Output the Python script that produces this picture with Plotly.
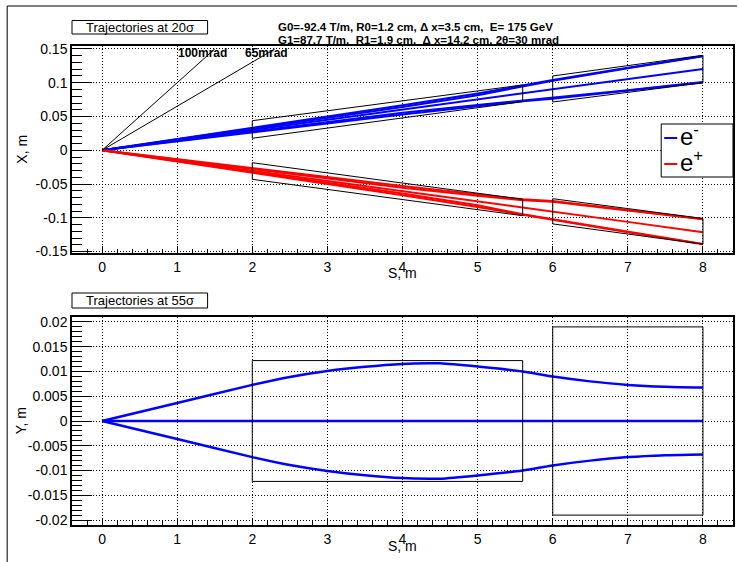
import plotly.graph_objects as go

# ---------------- data ----------------
S_TOP = [0, 2, 3, 4, 5, 5.6, 6, 7, 8]
# e- trajectories (X, m)
X_EM_1 = [0, 0.0330, 0.0495, 0.0665, 0.0840, 0.0960, 0.1040, 0.1222, 0.1397]
X_EM_2 = [0, 0.0318, 0.0475, 0.0640, 0.0815, 0.0950, 0.1030, 0.1213, 0.1392]
X_EM_3 = [0, 0.0300, 0.0452, 0.0603, 0.0754, 0.0845, 0.0905, 0.1055, 0.1205]
X_EM_4 = [0, 0.0282, 0.0425, 0.0555, 0.0672, 0.0738, 0.0772, 0.0890, 0.1010]
X_EM_5 = [0, 0.0270, 0.0405, 0.0530, 0.0652, 0.0725, 0.0762, 0.0885, 0.1005]
# e+ trajectories (X, m)
X_EP_1 = [0, -0.0330, -0.0495, -0.0665, -0.0840, -0.0958, -0.1030, -0.1215, -0.1390]
X_EP_2 = [0, -0.0318, -0.0475, -0.0640, -0.0815, -0.0948, -0.1020, -0.1208, -0.1386]
X_EP_3 = [0, -0.0300, -0.0452, -0.0603, -0.0754, -0.0848, -0.0905, -0.1060, -0.1215]
X_EP_4 = [0, -0.0282, -0.0425, -0.0555, -0.0672, -0.0740, -0.0762, -0.0892, -0.1022]
X_EP_5 = [0, -0.0270, -0.0405, -0.0530, -0.0652, -0.0726, -0.0750, -0.0885, -0.1017]

# magnet apertures in X (polygon corners)
BOX_S_Q0 = [2, 2, 5.6, 5.6, 2]
BOX_X_Q0_EM = [0.0178, 0.0438, 0.0967, 0.0720, 0.0178]
BOX_X_Q0_EP = [-0.0184, -0.0430, -0.0969, -0.0726, -0.0184]
BOX_S_Q1 = [6, 6, 8, 8, 6]
BOX_X_Q1_EM = [0.0715, 0.1100, 0.1407, 0.1000, 0.0715]
BOX_X_Q1_EP = [-0.0717, -0.1090, -0.1390, -0.1010, -0.0717]

# angle reference lines
ANG_S_100 = [0, 1.5]
ANG_X_100 = [0, 0.150]
ANG_S_65 = [0, 2.3]
ANG_X_65 = [0, 0.150]

# vertical trajectories (Y, m)
S_BOT = [0, 1, 2, 2.5, 3, 3.5, 4, 4.35, 4.5, 5, 5.6, 6, 6.5, 7, 7.5, 8]
Y_UP = [0, 0.00364, 0.00729, 0.0089, 0.0101, 0.01095, 0.01153, 0.01167, 0.01165,
        0.01099, 0.0100, 0.00897, 0.0080, 0.00729, 0.00690, 0.00674]
Y_MID = [0, 0, 0, 0, 0, 0, 0, 0, 0, 0, 0, 0, 0, 0, 0, 0]
Y_DN = [0, -0.00364, -0.00729, -0.0089, -0.0101, -0.01095, -0.01153, -0.01167, -0.01165,
        -0.01099, -0.0100, -0.00897, -0.0080, -0.00729, -0.00690, -0.00674]

BOXY_S_Q0 = [2, 2, 5.6, 5.6, 2]
BOXY_Y_Q0 = [-0.0122, 0.0122, 0.0122, -0.0122, -0.0122]
BOXY_S_Q1 = [6, 6, 8, 8, 6]
BOXY_Y_Q1 = [-0.0190, 0.0190, 0.0190, -0.0190, -0.0190]

X_TICKS = [0, 1, 2, 3, 4, 5, 6, 7, 8]
YT_VALS = [-0.15, -0.1, -0.05, 0, 0.05, 0.1, 0.15]
YT_TEXT = ["-0.15", "-0.1", "-0.05", "0", "0.05", "0.1", "0.15"]
YB_VALS = [-0.02, -0.015, -0.01, -0.005, 0, 0.005, 0.01, 0.015, 0.02]
YB_TEXT = ["-0.02", "-0.015", "-0.01", "-0.005", "0", "0.005", "0.01", "0.015", "0.02"]

# ---------------- figure ----------------
W, H = 739, 562
ML, MR, MT, MB = 72, 4, 46, 37
PW, PH = W - ML - MR, H - MT - MB
FONT = "Liberation Sans, Arial, Helvetica, sans-serif"


def px(x):
    return (x - ML) / PW


def py(y):
    return (H - MB - y) / PH


fig = go.Figure()

BLUE = "#0000ff"
RED = "#ff0000"

for ys in [X_EM_1, X_EM_2, X_EM_3, X_EM_4, X_EM_5]:
    fig.add_trace(go.Scatter(x=S_TOP, y=ys, mode="lines", line=dict(color=BLUE, width=2),
                             xaxis="x", yaxis="y", showlegend=False, hoverinfo="skip"))
for ys in [X_EP_1, X_EP_2, X_EP_3, X_EP_4, X_EP_5]:
    fig.add_trace(go.Scatter(x=S_TOP, y=ys, mode="lines", line=dict(color=RED, width=2),
                             xaxis="x", yaxis="y", showlegend=False, hoverinfo="skip"))
for sx, sy in [(BOX_S_Q0, BOX_X_Q0_EM), (BOX_S_Q0, BOX_X_Q0_EP),
               (BOX_S_Q1, BOX_X_Q1_EM), (BOX_S_Q1, BOX_X_Q1_EP),
               (ANG_S_100, ANG_X_100), (ANG_S_65, ANG_X_65)]:
    fig.add_trace(go.Scatter(x=sx, y=sy, mode="lines", line=dict(color="black", width=1),
                             xaxis="x", yaxis="y", showlegend=False, hoverinfo="skip"))

for ys in [Y_UP, Y_MID, Y_DN]:
    fig.add_trace(go.Scatter(x=S_BOT, y=ys, mode="lines",
                             line=dict(color=BLUE, width=2.5, shape="spline", smoothing=0.8),
                             xaxis="x2", yaxis="y2", showlegend=False, hoverinfo="skip"))
for sx, sy in [(BOXY_S_Q0, BOXY_Y_Q0), (BOXY_S_Q1, BOXY_Y_Q1)]:
    fig.add_trace(go.Scatter(x=sx, y=sy, mode="lines", line=dict(color="black", width=1),
                             xaxis="x2", yaxis="y2", showlegend=False, hoverinfo="skip"))

DOT = "1px,2px"
xcommon = dict(range=[-0.4, 8.4], tickvals=X_TICKS, ticks="inside", ticklen=7, tickcolor="black",
               minor=dict(ticks="inside", ticklen=4, dtick=0.2, tick0=0, tickcolor="black", showgrid=False),
               showgrid=True, gridcolor="black", griddash=DOT, gridwidth=1,
               showline=True, mirror=True, linecolor="black", linewidth=1.5, zeroline=False,
               tickfont=dict(family=FONT, size=14, color="black"))

fig.update_layout(
    width=W, height=H, margin=dict(l=ML, r=MR, t=MT, b=MB),
    paper_bgcolor="white", plot_bgcolor="white", showlegend=False,
    font=dict(family=FONT, color="black"),
    xaxis=dict(domain=[0, 1], anchor="y", **xcommon),
    xaxis2=dict(domain=[0, 1], anchor="y2", **xcommon),
    yaxis=dict(domain=[py(253), 1], anchor="x", range=[-0.1521, 0.1544],
               tickvals=YT_VALS, ticktext=YT_TEXT, ticks="inside", ticklen=20, tickcolor="black",
               minor=dict(ticks="inside", ticklen=10, dtick=0.01, tick0=0, tickcolor="black", showgrid=False),
               showgrid=True, gridcolor="black", griddash=DOT, gridwidth=1,
               showline=True, mirror=True, linecolor="black", linewidth=1.5, zeroline=False,
               tickfont=dict(family=FONT, size=14, color="black")),
    yaxis2=dict(domain=[0, py(317)], anchor="x2", range=[-0.0210, 0.0210],
                tickvals=YB_VALS, ticktext=YB_TEXT, ticks="inside", ticklen=20, tickcolor="black",
                minor=dict(ticks="inside", ticklen=10, dtick=0.001, tick0=0, tickcolor="black", showgrid=False),
                showgrid=True, gridcolor="black", griddash=DOT, gridwidth=1,
                showline=True, mirror=True, linecolor="black", linewidth=1.5, zeroline=False,
                tickfont=dict(family=FONT, size=14, color="black")),
)

shapes = [
    # canvas border
    dict(type="line", xref="paper", yref="paper", x0=px(7), x1=px(7), y0=py(6), y1=py(562),
         line=dict(color="black", width=1)),
    dict(type="line", xref="paper", yref="paper", x0=px(7), x1=px(739), y0=py(6), y1=py(6),
         line=dict(color="black", width=1)),
    # title boxes
    dict(type="rect", xref="paper", yref="paper", x0=px(72), x1=px(208), y0=py(34), y1=py(20.5),
         line=dict(color="black", width=1), fillcolor="white"),
    dict(type="rect", xref="paper", yref="paper", x0=px(72), x1=px(208), y0=py(308), y1=py(293),
         line=dict(color="black", width=1), fillcolor="white"),
    # legend
    dict(type="rect", xref="paper", yref="paper", x0=px(663), x1=px(735), y0=py(177), y1=py(124),
         line=dict(color="black", width=1), fillcolor="white"),
    dict(type="line", xref="paper", yref="paper", x0=px(666), x1=px(679), y0=py(138), y1=py(138),
         line=dict(color=BLUE, width=2)),
    dict(type="line", xref="paper", yref="paper", x0=px(666), x1=px(679), y0=py(164), y1=py(164),
         line=dict(color=RED, width=2)),
]
fig.update_layout(shapes=shapes)

ann = []


def A(text, x, y, size, bold=False, xanchor="center", yanchor="middle", angle=0, xref="paper", yref="paper"):
    t = "<b>%s</b>" % text if bold else text
    ann.append(dict(text=t, x=x, y=y, xref=xref, yref=yref, xanchor=xanchor, yanchor=yanchor,
                    showarrow=False, textangle=angle,
                    font=dict(family=FONT, size=size, color="black")))


A("Trajectories at 20σ", px(140), py(27.3), 13)
A("Trajectories at 55σ", px(140), py(300.5), 13)
A("G0=-92.4 T/m, R0=1.2 cm, Δ x=3.5 cm,  E= 175 GeV", px(277), py(27), 11.5, bold=True, xanchor="left")
A("G1=87.7 T/m,  R1=1.9 cm,  Δ x=14.2 cm, 2θ=30 mrad", px(277), py(40), 11.5, bold=True, xanchor="left")
A("100mrad", 0.99, 0.1437, 12, bold=True, xanchor="left", xref="x", yref="y")
A("65mrad", 1.88, 0.1437, 12, bold=True, xanchor="left", xref="x", yref="y")
A("X, m", px(21), py(149.5), 14, angle=-90)
A("Y, m", px(21), py(421), 14, angle=-90)
A("S, m", px(403.5), py(273), 14)
A("S, m", px(403.5), py(546), 14)
A("e<sup>-</sup>", px(680), py(135), 24, xanchor="left")
A("e<sup>+</sup>", px(680), py(161), 24, xanchor="left")
fig.update_layout(annotations=ann)

fig.write_html("out.html", config={"displayModeBar": False},
               post_script="document.body.style.margin='0';document.body.style.overflow='hidden';")
